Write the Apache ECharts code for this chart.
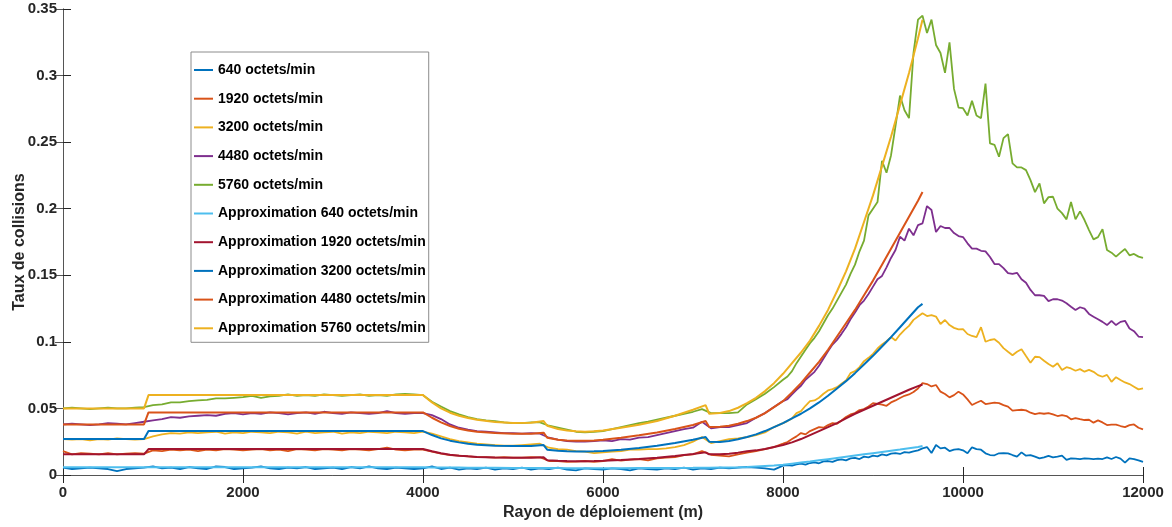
<!DOCTYPE html>
<html><head><meta charset="utf-8">
<script src="https://cdn.jsdelivr.net/npm/echarts@6/dist/echarts.min.js"></script>
<style>html,body{margin:0;padding:0;background:#fff}#c{width:1172px;height:527px}</style>
</head><body><div id="c"></div>
<script>
// x sampling of measured series: every 100 m up to 8000 m, then every 50 m
function range(a, b, s) { const r = []; for (let v = a; v <= b + 1e-9; v += s) r.push(v); return r; }
const xData = range(0, 8000, 100).concat(range(8050, 12000, 50));

const s640 = [
0.0055,0.0045,0.005,0.0055,0.005,0.0045,0.003,0.0045,0.005,0.0055,
0.0065,0.005,0.0055,0.0045,0.006,0.005,0.0045,0.0065,0.006,0.0045,
0.005,0.0055,0.0065,0.005,0.0045,0.0055,0.005,0.006,0.0045,0.005,
0.0055,0.0045,0.006,0.005,0.0065,0.005,0.0045,0.0055,0.005,0.0045,
0.005,0.0065,0.0045,0.0055,0.004,0.005,0.0045,0.0055,0.004,0.005,
0.0045,0.0055,0.004,0.005,0.0045,0.0055,0.004,0.0035,0.005,0.0045,
0.004,0.005,0.0045,0.0035,0.005,0.0045,0.004,0.005,0.0045,0.0055,
0.004,0.005,0.0045,0.0055,0.005,0.0055,0.006,0.0055,0.005,0.004,
0.007,
0.0075,0.007,0.008,0.0085,0.0078,0.009,0.0095,0.0088,0.0102,0.0105,
0.0098,0.0112,0.0118,0.011,0.0125,0.0128,0.012,0.0138,0.0132,0.0145,
0.014,0.0155,0.0148,0.016,0.0165,0.0158,0.0172,0.0168,0.0178,0.0185,0.020,
0.021,0.0165,0.0225,0.020,0.0205,0.018,0.019,0.0195,0.0185,0.0163,
0.0208,0.0195,0.019,0.0163,0.015,0.0148,0.0163,0.0165,0.0163,0.015,
0.0138,0.017,0.0145,0.015,0.0138,0.0125,0.0133,0.0143,0.0133,0.0138,
0.0145,0.0113,0.0125,0.0123,0.012,0.0125,0.0123,0.012,0.0123,0.012,
0.0133,0.012,0.0135,0.0123,0.0093,0.0125,0.012,0.011,0.0098];

const s1920 = [
0.018,0.0155,0.0165,0.016,0.0155,0.0165,0.0155,0.016,0.0165,0.016,
0.0185,0.018,0.019,0.0185,0.019,0.018,0.019,0.0185,0.0195,0.019,
0.0185,0.019,0.0195,0.0185,0.019,0.018,0.0195,0.019,0.0185,0.0195,
0.019,0.0185,0.0195,0.019,0.0185,0.0195,0.0205,0.019,0.0185,0.019,
0.019,0.0175,0.016,0.015,0.0145,0.014,0.0135,0.0135,0.013,0.0135,
0.013,0.013,0.0135,0.0133,0.0105,0.0105,0.0098,0.010,0.0105,0.0098,
0.0105,0.012,0.0108,0.0115,0.012,0.011,0.0125,0.013,0.0135,0.015,
0.0155,0.018,0.0152,0.0145,0.014,0.0155,0.0168,0.018,0.0195,0.021,
0.0235,
0.0248,0.027,0.029,0.0315,0.0305,0.033,0.0345,0.036,0.0355,0.0375,
0.039,0.0385,0.041,0.0436,0.0455,0.0465,0.0488,0.0495,0.0515,0.054,
0.0535,0.0528,0.052,0.0545,0.056,0.0578,0.0595,0.0605,0.0623,0.065,0.069,
0.0683,0.0665,0.0676,0.0626,0.0608,0.0583,0.060,0.0626,0.0605,0.0568,
0.0526,0.0543,0.0558,0.0533,0.0538,0.0543,0.054,0.0525,0.0513,0.0483,
0.0488,0.049,0.0485,0.0468,0.0458,0.0465,0.046,0.0465,0.0455,0.0443,
0.045,0.0443,0.0418,0.0428,0.042,0.0413,0.0415,0.0393,0.041,0.0395,
0.0375,0.0378,0.0378,0.0368,0.036,0.0375,0.038,0.0355,0.0343];

const s3200 = [
0.027,0.0265,0.027,0.026,0.027,0.0265,0.0275,0.027,0.0265,0.027,
0.029,0.0305,0.0315,0.031,0.032,0.0315,0.032,0.0325,0.031,0.032,
0.0315,0.0325,0.032,0.0315,0.0325,0.032,0.031,0.0325,0.0315,0.032,
0.0325,0.031,0.032,0.0315,0.0325,0.032,0.0315,0.0325,0.032,0.0315,
0.0325,0.031,0.029,0.027,0.0255,0.0245,0.0235,0.023,0.0225,0.022,
0.022,0.0225,0.023,0.0235,0.0205,0.0195,0.019,0.018,0.0175,0.0165,
0.017,0.0175,0.018,0.019,0.019,0.0195,0.0195,0.020,0.021,0.0225,
0.025,0.0285,0.024,0.0255,0.027,0.0275,0.0285,0.030,0.032,0.036,
0.039,
0.0405,0.0425,0.0465,0.048,0.052,0.0555,0.056,0.058,0.061,0.0635,
0.0645,0.066,0.0685,0.071,0.0765,0.078,0.081,0.0855,0.088,0.091,
0.095,0.098,0.1005,0.1036,0.101,0.1055,0.109,0.112,0.1165,0.119,0.1215,
0.1194,0.120,0.119,0.1134,0.1164,0.1126,0.1105,0.1094,0.1095,0.1059,
0.1044,0.1036,0.111,0.1001,0.1014,0.102,0.0993,0.0953,0.0926,0.090,
0.0926,0.0944,0.0893,0.0843,0.0888,0.0885,0.0858,0.0833,0.0813,0.0839,
0.0788,0.081,0.080,0.0783,0.0795,0.0776,0.079,0.0775,0.075,0.0738,
0.0752,0.070,0.0735,0.0713,0.0695,0.0683,0.0663,0.0643,0.0651];

const s4480 = [
0.038,0.0385,0.038,0.0375,0.038,0.039,0.0385,0.038,0.039,0.040,
0.041,0.042,0.0435,0.043,0.044,0.0445,0.045,0.0445,0.046,0.0465,
0.0455,0.0465,0.046,0.047,0.0465,0.0455,0.0465,0.047,0.046,0.0475,
0.0465,0.046,0.047,0.0465,0.046,0.0465,0.048,0.0465,0.046,0.0465,
0.0465,0.045,0.042,0.038,0.0355,0.034,0.033,0.0325,0.032,0.0315,
0.0315,0.031,0.0315,0.031,0.028,0.0265,0.0255,0.025,0.025,0.0255,
0.026,0.0255,0.027,0.0265,0.028,0.0285,0.030,0.0315,0.033,0.0345,
0.0355,0.040,0.035,0.036,0.036,0.0375,0.039,0.043,0.0465,0.051,
0.0555,
0.057,0.0605,0.064,0.067,0.0715,0.0745,0.0775,0.082,0.0875,0.093,
0.098,0.1015,0.106,0.111,0.117,0.122,0.1275,0.131,0.136,0.1415,
0.147,0.1495,0.156,0.163,0.169,0.179,0.176,0.185,0.180,0.1877,0.189,
0.202,0.199,0.1825,0.187,0.1855,0.1855,0.1817,0.1795,0.1787,0.174,
0.170,0.170,0.1684,0.168,0.1637,0.1584,0.1584,0.1554,0.1516,0.151,
0.1519,0.147,0.1444,0.139,0.135,0.135,0.1345,0.1306,0.132,0.132,
0.131,0.129,0.1264,0.1239,0.126,0.125,0.121,0.1189,0.117,0.115,
0.1126,0.1158,0.1126,0.115,0.1158,0.110,0.108,0.104,0.1035];

const s5760 = [
0.050,0.0505,0.050,0.0495,0.050,0.0505,0.050,0.050,0.0505,0.051,
0.0525,0.053,0.0545,0.0545,0.0555,0.056,0.0565,0.0575,0.0575,0.058,
0.0585,0.0595,0.058,0.059,0.0595,0.0605,0.0595,0.060,0.0595,0.0605,
0.060,0.0595,0.060,0.0605,0.0595,0.060,0.0595,0.0605,0.061,0.0605,
0.060,0.055,0.0515,0.048,0.0455,0.0435,0.042,0.041,0.0405,0.0395,
0.039,0.039,0.0395,0.0395,0.037,0.0355,0.034,0.0325,0.032,0.0325,
0.033,0.0345,0.036,0.0375,0.039,0.040,0.0415,0.043,0.0445,0.046,
0.0475,0.0495,0.0465,0.0465,0.0465,0.047,0.053,0.057,0.061,0.066,
0.0715,
0.074,0.078,0.084,0.089,0.094,0.099,0.103,0.108,0.114,0.120,
0.125,0.131,0.137,0.143,0.151,0.158,0.168,0.176,0.195,0.200,
0.205,0.236,0.227,0.240,0.262,0.285,0.274,0.268,0.317,0.342,0.345,
0.332,0.342,0.323,0.317,0.302,0.325,0.290,0.276,0.2755,0.270,
0.281,0.270,0.268,0.294,0.249,0.248,0.239,0.253,0.256,0.234,
0.231,0.231,0.229,0.2215,0.2125,0.219,0.204,0.2087,0.209,0.200,
0.1967,0.192,0.205,0.192,0.198,0.1915,0.184,0.177,0.1787,0.1847,
0.169,0.167,0.164,0.167,0.1697,0.165,0.166,0.164,0.163];

// fitted approximation curves
const xApprox = [0,900,950,4000,4100,4200,4300,4400,4500,4600,4800,5000,5200,5340,5380,
5500,5600,5700,5800,5900,6000,6200,6400,6600,6800,7000,7140,7180,7300,7400,7500,7600,7700,
7800,7900,8000,8100,8200,8300,8400,8500,8600,8700,8800,8900,9000,9100,9200,9300,9400,9500,9550];

const a640 = [0.0058,0.0058,0.0058,0.0058,0.0057,0.0057,0.0056,0.0056,0.0055,0.0055,0.0054,0.0053,0.0053,
0.0052,0.0052,0.0052,0.0051,0.0051,0.0051,0.0051,0.0051,0.0051,0.0052,0.0052,0.0053,0.0054,0.0055,0.0055,
0.0056,0.0057,0.0058,0.006,0.0064,0.0068,0.0072,0.0077,0.0085,0.0093,0.0101,0.011,0.0119,0.0128,0.0137,
0.0146,0.0155,0.0164,0.0173,0.0182,0.0191,0.0201,0.0211,0.0217];
const a1920 = [0.0155,0.0155,0.0195,0.0195,0.0178,0.0163,0.0152,0.0145,0.014,0.0136,0.0132,0.013,0.013,
0.0133,0.011,0.0107,0.0105,0.0104,0.0104,0.0105,0.0107,0.0112,0.012,0.013,0.0142,0.0157,0.017,0.0155,
0.0155,0.016,0.0168,0.0178,0.0185,0.0195,0.021,0.0225,0.0245,0.027,0.030,0.033,0.036,0.039,0.0425,
0.046,0.049,0.052,0.055,0.058,0.061,0.064,0.0667,0.068];
const a3200 = [0.027,0.027,0.033,0.033,0.030,0.0275,0.0258,0.0245,0.0235,0.0228,0.022,0.0217,0.0218,
0.0225,0.019,0.0182,0.0178,0.0177,0.0177,0.0178,0.018,0.019,0.0203,0.022,0.024,0.0265,0.0285,0.025,
0.0248,0.0255,0.0268,0.0285,0.0305,0.033,0.036,0.039,0.0425,0.046,0.050,0.0545,0.0595,0.065,0.0705,
0.0765,0.083,0.0895,0.0965,0.1035,0.111,0.1185,0.126,0.1285];
const a4480 = [0.038,0.038,0.047,0.047,0.043,0.0395,0.0368,0.0348,0.0335,0.0325,0.0315,0.031,0.031,
0.0318,0.028,0.0265,0.026,0.0258,0.0258,0.026,0.0265,0.028,0.0298,0.032,0.0345,0.0375,0.0405,0.036,
0.0362,0.037,0.0385,0.0405,0.043,0.0465,0.051,0.0555,0.062,0.069,0.077,0.085,0.094,0.104,0.114,
0.124,0.135,0.146,0.158,0.170,0.182,0.194,0.206,0.2125];
const a5760 = [0.050,0.050,0.060,0.060,0.0545,0.050,0.0468,0.0445,0.0428,0.0415,0.0398,0.039,0.0392,
0.0405,0.037,0.0345,0.0335,0.0328,0.0325,0.0328,0.0335,0.0355,0.0378,0.0405,0.0445,0.049,0.0525,0.046,
0.0465,0.048,0.0505,0.054,0.058,0.063,0.069,0.076,0.084,0.092,0.101,0.112,0.124,0.138,0.153,
0.170,0.190,0.210,0.232,0.254,0.278,0.302,0.328,0.342];

const xTicks = [0, 2000, 4000, 6000, 8000, 10000, 12000];
const yTicks = [0, 0.05, 0.1, 0.15, 0.2, 0.25, 0.3, 0.35];

const names = ['640 octets/min','1920 octets/min','3200 octets/min','4480 octets/min','5760 octets/min',
'Approximation 640 octets/min','Approximation 1920 octets/min','Approximation 3200 octets/min',
'Approximation 4480 octets/min','Approximation 5760 octets/min'];
const colors = ['#0072BD','#D95319','#EDB120','#7E2F8E','#77AC30','#4DBEEE','#A2142F','#0072BD','#D95319','#EDB120'];

const dataSets = [s640, s1920, s3200, s4480, s5760];
const approxSets = [a640, a1920, a3200, a4480, a5760];
const pair = (xs, ys) => ys.map((y, i) => [xs[i], y]);

const series = [];
dataSets.forEach((ys, i) => series.push({
  name: names[i], type: 'line', data: pair(xData, ys), showSymbol: false, symbol: 'none',
  lineStyle: { width: 1.8, color: colors[i] }, itemStyle: { color: colors[i] }, z: 2, animation: false
}));
approxSets.forEach((ys, i) => series.push({
  name: names[5 + i], type: 'line', data: pair(xApprox, ys), showSymbol: false, symbol: 'none',
  lineStyle: { width: 2, color: colors[5 + i] }, itemStyle: { color: colors[5 + i] }, z: 3, animation: false
}));

const FONT = '"Liberation Sans", Arial, Helvetica, sans-serif';
const lbl = { fontFamily: FONT, fontWeight: 'bold', fontSize: 15, color: '#262626' };

const chart = echarts.init(document.getElementById('c'), null, { renderer: 'canvas' });
chart.setOption({
  animation: false,
  backgroundColor: '#fff',
  grid: { left: 63, right: 29, top: 9, bottom: 52, containLabel: false, outerBoundsMode: 'none' },
  legend: {
    data: names, orient: 'vertical', left: 191, top: 52,
    padding: [11, 3, 7, 3], itemWidth: 19, itemHeight: 2, itemGap: 14.7, icon: 'rect',
    backgroundColor: '#fff', borderColor: '#8c8c8c', borderWidth: 1, borderRadius: 0,
    textStyle: { fontFamily: FONT, fontWeight: 'bold', fontSize: 14, color: '#000', lineHeight: 14 }
  },
  xAxis: [{
    type: 'value', min: 0, max: 12000, interval: 2000, position: 'bottom',
    name: 'Rayon de déploiement (m)', nameLocation: 'middle', nameGap: 30, nameMoveOverlap: false,
    nameTextStyle: { fontFamily: FONT, fontWeight: 'bold', fontSize: 16, color: '#262626' },
    axisLine: { show: true, lineStyle: { color: '#8c8c8c', width: 1 } },
    axisTick: { show: true, inside: true, length: 8, lineStyle: { color: '#262626' } },
    axisLabel: Object.assign({ margin: 10, formatter: v => xTicks.includes(v) ? String(v) : '' }, lbl),
    splitLine: { show: false }
  }, {
    type: 'value', min: 0, max: 12000, interval: 2000, position: 'top',
    axisLine: { show: true, lineStyle: { color: '#555', width: 1 } },
    axisTick: { show: true, inside: true, length: 8, lineStyle: { color: '#262626' } },
    axisLabel: { show: false }, splitLine: { show: false }
  }],
  yAxis: [{
    type: 'value', min: 0, max: 0.35, interval: 0.05, position: 'left',
    name: 'Taux de collisions', nameLocation: 'middle', nameGap: 35, nameRotate: 90, nameMoveOverlap: false,
    nameTextStyle: { fontFamily: FONT, fontWeight: 'bold', fontSize: 16, color: '#262626' },
    axisLine: { show: true, lineStyle: { color: '#8c8c8c', width: 1 } },
    axisTick: { show: true, inside: true, length: 8, lineStyle: { color: '#262626' } },
    axisLabel: Object.assign({ margin: 6, formatter: v => String(+v.toFixed(2)) }, lbl),
    splitLine: { show: false }
  }, {
    type: 'value', min: 0, max: 0.35, interval: 0.05, position: 'right',
    axisLine: { show: true, lineStyle: { color: '#555', width: 1 } },
    axisTick: { show: true, inside: true, length: 8, lineStyle: { color: '#555' } },
    axisLabel: { show: false }, splitLine: { show: false }
  }],
  series: series
});
</script></body></html>
